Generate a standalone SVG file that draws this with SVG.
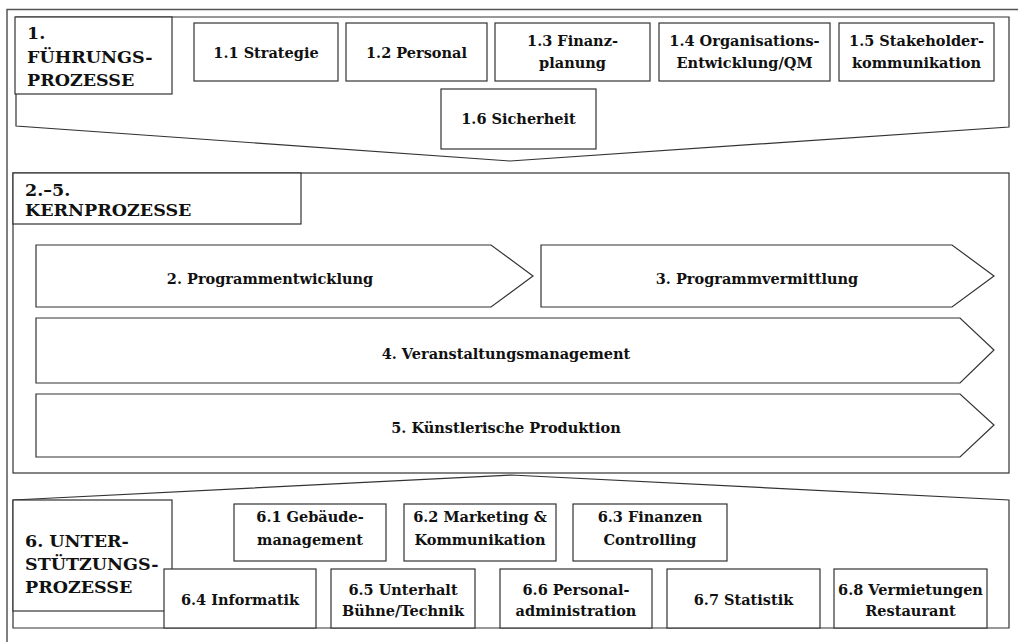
<svg xmlns="http://www.w3.org/2000/svg" width="1018" height="642" viewBox="0 0 1018 642">
<style>
.frame{fill:none;stroke:#555;stroke-width:1.5}
.sec{fill:#fff;stroke:#333;stroke-width:1.2}
.box{fill:#fff;stroke:#333;stroke-width:1.2}
.t{font-family:"DejaVu Serif","Liberation Serif",serif;font-weight:bold;font-size:14.5px;fill:#111;text-anchor:middle}
.h{font-family:"DejaVu Serif","Liberation Serif",serif;font-weight:bold;font-size:17.5px;fill:#111}
</style>
<rect x="0" y="0" width="1018" height="642" fill="#fff"/>
<rect class="frame" x="7" y="9.5" width="1030" height="650"/>

<g id="fuehrung">
<polygon class="sec" points="16,17 1009,17 1009,127 510,161 16,126"/>
<rect class="box" x="15" y="17" width="157" height="77"/>
<text class="h" x="27" y="39">1.</text>
<text class="h" x="27" y="62.5">FÜHRUNGS-</text>
<text class="h" x="27" y="86">PROZESSE</text>
</g>
<g id="n1_1"><rect class="box" x="194" y="23" width="144" height="58"/><text class="t" x="266" y="57.5">1.1 Strategie</text></g>
<g id="n1_2"><rect class="box" x="346" y="23" width="141" height="58"/><text class="t" x="416.5" y="57.5">1.2 Personal</text></g>
<g id="n1_3"><rect class="box" x="495" y="23" width="155" height="58"/><text class="t" x="572.5" y="46">1.3 Finanz-</text><text class="t" x="572.5" y="67.5">planung</text></g>
<g id="n1_4"><rect class="box" x="659" y="23" width="171" height="58"/><text class="t" x="744.5" y="46">1.4 Organisations-</text><text class="t" x="744.5" y="67.5">Entwicklung/QM</text></g>
<g id="n1_5"><rect class="box" x="839" y="23" width="155" height="58"/><text class="t" x="916.5" y="46">1.5 Stakeholder-</text><text class="t" x="916.5" y="67.5">kommunikation</text></g>
<g id="n1_6"><rect class="box" x="441" y="89" width="155" height="60"/><text class="t" x="518.5" y="124">1.6 Sicherheit</text></g>

<g id="kern">
<rect class="sec" x="13" y="173" width="996" height="300"/>
<rect class="box" x="13" y="173" width="288" height="51"/>
<text class="h" x="25" y="196">2.–5.</text>
<text class="h" x="25" y="215.5">KERNPROZESSE</text>
</g>
<g id="n2"><polygon class="box" points="36,245 491,245 533,276 491,307 36,307"/><text class="t" x="270" y="284">2. Programmentwicklung</text></g>
<g id="n3"><polygon class="box" points="541,245 952,245 994,276 952,307 541,307"/><text class="t" x="757" y="284">3. Programmvermittlung</text></g>
<g id="n4"><polygon class="box" points="36,318 960,318 994,350 960,383 36,383"/><text class="t" x="506" y="359">4. Veranstaltungsmanagement</text></g>
<g id="n5"><polygon class="box" points="36,394 960,394 994,425 960,457 36,457"/><text class="t" x="506" y="433">5. Künstlerische Produktion</text></g>

<g id="unterstuetzung">
<polygon class="sec" points="13,500 511,475 1009,500 1009,628 13,628"/>
<rect class="box" x="13" y="500" width="159" height="111"/>
<text class="h" x="25" y="547">6. UNTER-</text>
<text class="h" x="25" y="570">STÜTZUNGS-</text>
<text class="h" x="25" y="593">PROZESSE</text>
</g>
<g id="n6_1"><rect class="box" x="234" y="504" width="152" height="57"/><text class="t" x="310" y="522">6.1 Gebäude-</text><text class="t" x="310" y="545">management</text></g>
<g id="n6_2"><rect class="box" x="404" y="504" width="152" height="57"/><text class="t" x="480" y="522">6.2 Marketing &amp;</text><text class="t" x="480" y="545">Kommunikation</text></g>
<g id="n6_3"><rect class="box" x="573" y="504" width="154" height="57"/><text class="t" x="650" y="522">6.3 Finanzen</text><text class="t" x="650" y="545">Controlling</text></g>
<g id="n6_4"><rect class="box" x="164" y="569" width="152" height="59"/><text class="t" x="240" y="605">6.4 Informatik</text></g>
<g id="n6_5"><rect class="box" x="331" y="569" width="144" height="59"/><text class="t" x="403" y="595">6.5 Unterhalt</text><text class="t" x="403" y="616">Bühne/Technik</text></g>
<g id="n6_6"><rect class="box" x="500" y="569" width="152" height="59"/><text class="t" x="576" y="595">6.6 Personal-</text><text class="t" x="576" y="616">administration</text></g>
<g id="n6_7"><rect class="box" x="667" y="569" width="153" height="59"/><text class="t" x="743.5" y="605">6.7 Statistik</text></g>
<g id="n6_8"><rect class="box" x="834" y="569" width="153" height="59"/><text class="t" x="910.5" y="595">6.8 Vermietungen</text><text class="t" x="910.5" y="616">Restaurant</text></g>
<g id="connectors"></g>
</svg>
